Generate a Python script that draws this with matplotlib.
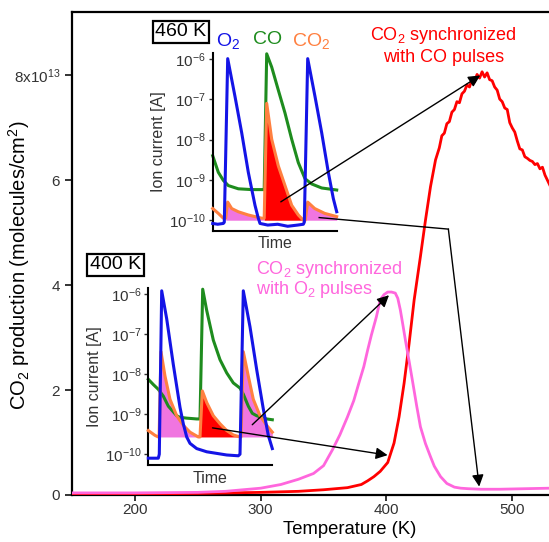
import numpy as np
import matplotlib
matplotlib.use("Agg")
import matplotlib.pyplot as plt

plt.rcParams["font.family"] = ["Liberation Sans", "DejaVu Sans"]
plt.rcParams["mathtext.fontset"] = "custom"
plt.rcParams["mathtext.rm"] = "Liberation Sans"
plt.rcParams["mathtext.it"] = "Liberation Sans:italic"
plt.rcParams["mathtext.bf"] = "Liberation Sans:bold"

# ----------------------------
# Main curves (units of 1e13 molecules/cm2)
# ----------------------------
co_sync_T = [150, 200, 250, 300, 330, 350, 369, 380, 385, 390, 395, 401, 406, 410,
             414, 418, 422, 427, 431, 435, 439, 442, 444, 446, 448, 450, 452, 454,
             456, 458, 460, 462, 464, 466, 468, 470, 472, 474, 476, 478, 480, 482,
             484, 486, 488, 490, 492, 494, 496, 498, 500, 502, 504, 506, 508, 510,
             512, 514, 516, 518, 520, 522, 524, 526, 528, 530]
co_sync_val = [0.02, 0.02, 0.03, 0.05, 0.07, 0.1, 0.14, 0.2, 0.27, 0.35, 0.45, 0.62,
               0.99, 1.49, 2.13, 2.89, 3.72, 4.55, 5.24, 5.88, 6.39, 6.62, 6.85, 6.9,
               7.08, 7.12, 7.3, 7.35, 7.5, 7.48, 7.65, 7.7, 7.82, 7.78, 7.93, 7.88,
               8.02, 7.95, 8.07, 7.97, 8.05, 7.92, 7.9, 7.78, 7.72, 7.55, 7.5, 7.38,
               7.35, 7.1, 7.0, 6.92, 6.75, 6.6, 6.58, 6.45, 6.42, 6.38, 6.36, 6.3,
               6.32, 6.22, 6.25, 6.1, 6.0, 5.9]

o2_sync_T = [150, 200, 250, 272, 300, 316, 330, 342, 350, 357, 363, 369, 374, 378,
             382, 385, 388, 392, 395, 398, 401, 404, 407, 409, 411, 413, 415, 418,
             421, 424, 427, 431, 435, 438, 443, 448, 454, 459, 465, 475, 490, 510, 530]
o2_sync_val = [0.04, 0.04, 0.05, 0.07, 0.13, 0.2, 0.3, 0.41, 0.56, 0.86, 1.15, 1.49,
               1.8, 2.13, 2.45, 2.76, 3.05, 3.4, 3.72, 3.82, 3.87, 3.87, 3.85, 3.75,
               3.53, 3.25, 2.96, 2.55, 2.13, 1.7, 1.3, 0.98, 0.73, 0.55, 0.35, 0.22,
               0.15, 0.13, 0.12, 0.11, 0.11, 0.12, 0.13]

# ----------------------------
# Inset at 460 K (time in arb. units, log10 of ion current)
# ----------------------------
t_o2_460 = [0, 5, 10.6, 11.6, 15, 22.3, 29, 35.6, 42.3, 45.6, 47.3, 55, 65, 75, 85,
            90.6, 91.6, 95, 102.3, 109, 115.6, 120.6, 124]
log_o2_460 = [-10.08, -10.1, -10.08, -10.05, -5.99, -6.93, -7.83, -8.81, -9.63, -9.95,
              -10.08, -10.12, -10.1, -10.15, -10.12, -10.1, -10.05, -5.99, -6.93,
              -7.83, -8.81, -9.46, -9.79]
t_co_460 = [0, 5.6, 10.6, 15.6, 25.6, 39, 49, 51.5, 54, 59, 65.6, 72.3, 79, 85.6,
            92.3, 99, 109, 124]
log_co_460 = [-8.40, -8.81, -9.01, -9.14, -9.22, -9.24, -9.24, -9.24, -5.87, -6.2,
              -6.77, -7.34, -7.99, -8.57, -8.97, -9.10, -9.2, -9.25]
t_co2_460 = [0, 5.6, 10.6, 13, 15, 19, 25.6, 35.6, 49, 51.5, 54, 59, 65.6, 72.3, 79,
             85.6, 90.6, 92.5, 95, 102, 112, 124]
log_co2_460 = [-9.71, -9.83, -9.95, -9.95, -9.55, -9.71, -9.79, -9.87, -9.95, -9.95,
               -7.1, -7.99, -8.65, -9.14, -9.63, -9.87, -10.0, -10.0, -9.55, -9.71,
               -9.83, -9.91]

# ----------------------------
# Inset at 400 K
# ----------------------------
t_o2_400 = [0, 5, 10, 11, 13.4, 18.4, 25, 31.7, 35, 38.4, 41.7, 48.4, 58.4, 68.4,
            78.4, 90, 91.7, 95, 101.7, 108.4, 115, 120, 124]
log_o2_400 = [-10.1, -10.1, -10.1, -10.0, -5.92, -6.62, -7.76, -8.83, -9.24, -9.57,
              -9.73, -9.86, -9.94, -9.98, -10.02, -10.04, -10.0, -5.92, -6.82, -7.89,
              -8.87, -9.53, -9.86]
t_co_400 = [0, 5, 10, 15, 20, 28.4, 31.7, 38.4, 48.4, 51.7, 54.4, 58.4, 65, 71.7,
            78.4, 85, 91.7, 95, 100, 104, 108.4, 118.4, 124]
log_co_400 = [-8.13, -8.26, -8.38, -8.55, -8.8, -9.04, -9.08, -9.1, -9.12, -9.12,
              -5.88, -6.41, -7.15, -7.64, -7.97, -8.22, -8.35, -8.5, -8.8, -8.98,
              -9.04, -9.12, -9.14]
t_co2_400 = [0, 6.7, 10, 10.8, 12.7, 16.7, 21.7, 28.4, 35, 41.7, 50, 51.7, 54, 58.4,
             65, 71.7, 78.4, 85, 91.7, 92.7, 95, 100, 105, 111.7, 118.4, 124]
log_co2_400 = [-9.41, -9.53, -9.57, -9.57, -7.44, -8.05, -8.63, -9.04, -9.28, -9.45,
               -9.57, -9.57, -8.42, -8.71, -9.04, -9.24, -9.41, -9.52, -9.57, -9.57,
               -7.44, -8.05, -8.63, -9.04, -9.28, -9.45]

inset_ticks = [-10, -9, -8, -7, -6]

RED = "#ff0000"
PINK = "#ff66dd"
PINK_FILL = "#f075e0"
BLUE = "#1414e6"
GREEN = "#1e8c1e"
ORANGE = "#ff8040"

W, H = 549, 542
fig = plt.figure(figsize=(W / 100, H / 100), dpi=100)


def fx(px):
    return px / W


def fy(py):
    return 1 - py / H


# ----------------------------
# Main axes
# ----------------------------
ax = fig.add_axes([fx(72), fy(495), fx(W - 72), (495 - 12) / H])
ax.plot(co_sync_T, co_sync_val, color=RED, lw=2, zorder=3)
ax.plot(o2_sync_T, o2_sync_val, color=PINK, lw=2, zorder=3)
ax.set_xlim(150, 529.2)
ax.set_ylim(0, 9.21)
ax.set_xticks([200, 300, 400, 500])
ax.set_yticks([0, 2, 4, 6, 8])
ax.set_yticklabels(["0", "2", "4", "6", "8x10$^{13}$"])
ax.spines["right"].set_visible(False)
for s in ["left", "bottom", "top"]:
    ax.spines[s].set_linewidth(1.6)
ax.tick_params(labelsize=11, width=1.4, length=5, colors="#333333", labelcolor="#333333")
ax.tick_params(axis="x", pad=2, length=4)
ax.set_xlabel("Temperature (K)", fontsize=13.3)
ax.xaxis.set_label_coords((350 - 72) / (W - 72), (495 - 521) / (495 - 12))
ax.set_ylabel("CO$_2$ production (molecules/cm$^2$)", fontsize=14.5)
ax.yaxis.set_label_coords((32 - 72) / (W - 72), (495 - 265) / (495 - 12))


def make_inset(left_px, bottom_px, top_px, ymin):
    ins = ax.inset_axes([fx(left_px), fy(bottom_px), fx(124), (bottom_px - top_px) / H],
                        transform=fig.transFigure, zorder=5)
    ins.set_facecolor("none")
    ins.set_yscale("log")
    ins.set_xlim(0, 124)
    ins.set_ylim(10 ** ymin, 10 ** -5.85)
    ins.set_yticks([10.0 ** k for k in inset_ticks])
    ins.set_yticklabels(["10$^{%d}$" % k for k in inset_ticks])
    ins.yaxis.set_minor_locator(plt.NullLocator())
    ins.set_xticks([])
    ins.spines["top"].set_visible(False)
    ins.spines["right"].set_visible(False)
    ins.spines["left"].set_linewidth(1.5)
    ins.spines["bottom"].set_linewidth(1.5)
    ins.tick_params(axis="y", labelsize=11, length=3, width=1, pad=2,
                    colors="#333333", labelcolor="#333333")
    ins.set_ylabel("Ion current [A]", fontsize=11.5, color="#333333", labelpad=2)
    ins.set_xlabel("Time", fontsize=11.5, color="#333333", labelpad=4)
    return ins


def draw_pulses(ins, t_o2, l_o2, t_co, l_co, t_co2, l_co2, base, cut1, cut2):
    t2 = np.array(t_co2)
    y2 = 10.0 ** np.array(l_co2)
    b = 10.0 ** base
    ins.fill_between(t2[3:cut1 + 1], y2[3:cut1 + 1], b, color=PINK_FILL, lw=0, zorder=1)
    ins.fill_between(t2[cut1:cut2 + 1], y2[cut1:cut2 + 1], b, color=RED, lw=0, zorder=1)
    ins.fill_between(t2[cut2:], y2[cut2:], b, color=PINK_FILL, lw=0, zorder=1)
    ins.plot(t_co, 10.0 ** np.array(l_co), color=GREEN, lw=2.2, zorder=2, clip_on=False)
    ins.plot(t2, y2, color=ORANGE, lw=2.2, zorder=3, clip_on=False)
    ins.plot(t_o2, 10.0 ** np.array(l_o2), color=BLUE, lw=2.2, zorder=4, clip_on=False)


ins460 = make_inset(212.7, 230.7, 53, -10.26)
draw_pulses(ins460, t_o2_460, log_o2_460, t_co_460, log_co_460, t_co2_460, log_co2_460,
            -10.0, 9, 17)

ins400 = make_inset(148.3, 465, 288, -10.27)
draw_pulses(ins400, t_o2_400, log_o2_400, t_co_400, log_co_400, t_co2_400, log_co2_400,
            -9.57, 11, 19)

# Temperature boxes and species labels
box = dict(boxstyle="square,pad=0.15", fc="white", ec="black", lw=1.6)
fig.text(fx(181), fy(32), "460 K", fontsize=14, ha="center", va="center", bbox=box, zorder=20)
fig.text(fx(115.5), fy(265), "400 K", fontsize=14, ha="center", va="center", bbox=box, zorder=20)
fig.text(fx(228), fy(41), "O$_2$", color=BLUE, fontsize=14, ha="center", va="center")
fig.text(fx(268), fy(40), "CO", color=GREEN, fontsize=14, ha="center", va="center")
fig.text(fx(311), fy(41), "CO$_2$", color=ORANGE, fontsize=14, ha="center", va="center")

# Annotation texts
fig.text(fx(443.5), fy(36), "CO$_2$ synchronized", color=RED, fontsize=13, ha="center", va="center")
fig.text(fx(443.5), fy(57), "with CO pulses", color=RED, fontsize=13, ha="center", va="center")
fig.text(fx(255.6), fy(269), "CO$_2$ synchronized", color=PINK, fontsize=13, ha="left", va="center")
fig.text(fx(255.6), fy(289), "with O$_2$ pulses", color=PINK, fontsize=13, ha="left", va="center")

# Arrows (main-axes data coordinates)
arrow = dict(arrowstyle="-|>,head_length=0.5,head_width=0.25", color="black", lw=1,
             mutation_scale=14, shrinkA=0, shrinkB=0)
ax.annotate("", xy=(474.5, 8.0), xytext=(316, 5.59), arrowprops=arrow,
            annotation_clip=False, zorder=10)
ax.plot([346.5, 449.2], [5.29, 5.07], color="black", lw=1, zorder=10, clip_on=False)
ax.annotate("", xy=(473.7, 0.16), xytext=(449.2, 5.07), arrowprops=arrow,
            annotation_clip=False, zorder=10)
ax.annotate("", xy=(402, 3.81), xytext=(293.3, 1.34), arrowprops=arrow,
            annotation_clip=False, zorder=10)
ax.annotate("", xy=(400.9, 0.76), xytext=(261.7, 1.28), arrowprops=arrow,
            annotation_clip=False, zorder=10)

fig.savefig("out.png", dpi=100)
